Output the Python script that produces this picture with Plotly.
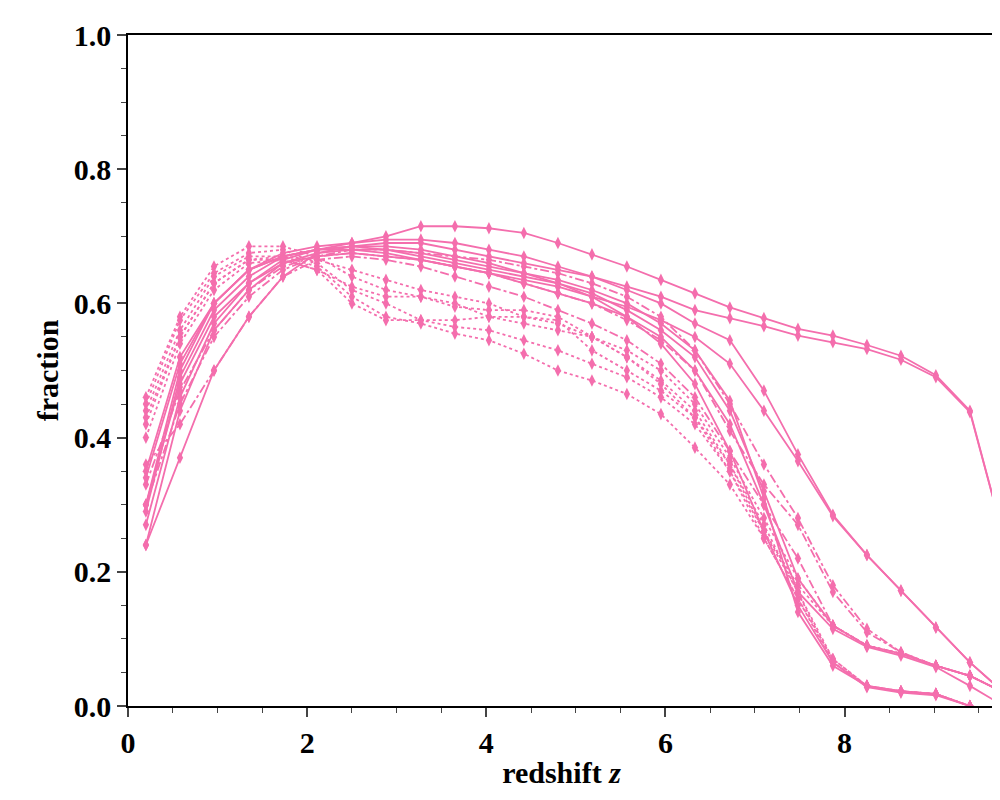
import plotly.graph_objects as go

z = [0.2, 0.58, 0.96, 1.35, 1.73, 2.11, 2.5, 2.88, 3.27, 3.65, 4.03, 4.42, 4.8,
     5.18, 5.57, 5.95, 6.33, 6.72, 7.1, 7.48, 7.87, 8.25, 8.63, 9.02, 9.4, 9.78]

# solid runs
solid = [
    [0.30, 0.50, 0.60, 0.65, 0.67, 0.68, 0.69, 0.70, 0.715, 0.715, 0.712, 0.705, 0.69, 0.673, 0.655, 0.635, 0.615, 0.594, 0.578, 0.562, 0.552, 0.538, 0.522, 0.493, 0.44, 0.25],
    [0.29, 0.49, 0.59, 0.64, 0.67, 0.68, 0.685, 0.69, 0.69, 0.68, 0.67, 0.66, 0.65, 0.64, 0.625, 0.61, 0.59, 0.578, 0.566, 0.552, 0.542, 0.532, 0.516, 0.49, 0.438, 0.25],
    [0.35, 0.52, 0.60, 0.65, 0.675, 0.685, 0.69, 0.695, 0.695, 0.69, 0.68, 0.67, 0.655, 0.64, 0.62, 0.60, 0.57, 0.545, 0.47, 0.375, 0.285, 0.225, 0.172, 0.117, 0.065, 0.02],
    [0.34, 0.51, 0.60, 0.65, 0.67, 0.68, 0.68, 0.675, 0.665, 0.655, 0.645, 0.635, 0.625, 0.61, 0.595, 0.575, 0.55, 0.51, 0.44, 0.365, 0.283, 0.225, 0.172, 0.117, 0.065, 0.02],
    [0.27, 0.46, 0.57, 0.63, 0.66, 0.675, 0.68, 0.68, 0.67, 0.66, 0.65, 0.64, 0.63, 0.615, 0.59, 0.56, 0.52, 0.44, 0.32, 0.19, 0.12, 0.09, 0.078, 0.06, 0.045, 0.02],
    [0.24, 0.44, 0.56, 0.62, 0.66, 0.67, 0.675, 0.67, 0.665, 0.655, 0.645, 0.63, 0.615, 0.60, 0.58, 0.55, 0.50, 0.42, 0.30, 0.17, 0.115, 0.088, 0.075, 0.058, 0.03, 0.0],
    [0.30, 0.48, 0.58, 0.63, 0.665, 0.68, 0.685, 0.68, 0.675, 0.665, 0.655, 0.645, 0.635, 0.62, 0.60, 0.57, 0.53, 0.455, 0.31, 0.14, 0.06, 0.03, 0.022, 0.018, 0.0, -0.01],
    [0.24, 0.37, 0.50, 0.58, 0.64, 0.675, 0.685, 0.685, 0.68, 0.67, 0.66, 0.645, 0.63, 0.61, 0.58, 0.54, 0.48, 0.38, 0.26, 0.15, 0.065, 0.028, 0.02, 0.016, 0.0, -0.01],
]
# dash-dot runs
dashdot = [
    [0.30, 0.45, 0.55, 0.61, 0.65, 0.67, 0.68, 0.68, 0.675, 0.67, 0.665, 0.655, 0.645, 0.63, 0.61, 0.58, 0.53, 0.45, 0.36, 0.28, 0.18, 0.115, 0.08, 0.06, 0.045, 0.02],
    [0.33, 0.47, 0.56, 0.62, 0.655, 0.67, 0.675, 0.67, 0.665, 0.655, 0.645, 0.63, 0.615, 0.60, 0.575, 0.545, 0.50, 0.41, 0.33, 0.27, 0.17, 0.11, 0.08, 0.06, 0.045, 0.02],
    [0.36, 0.42, 0.50, 0.58, 0.64, 0.665, 0.67, 0.665, 0.655, 0.64, 0.625, 0.61, 0.59, 0.57, 0.545, 0.51, 0.46, 0.38, 0.30, 0.22, 0.12, 0.09, 0.078, 0.06, 0.045, 0.02],
]
# dotted runs
dotted = [
    [0.46, 0.58, 0.655, 0.685, 0.685, 0.67, 0.64, 0.62, 0.61, 0.60, 0.58, 0.57, 0.56, 0.55, 0.53, 0.50, 0.45, 0.37, 0.28, 0.19, 0.12, 0.09, 0.078, 0.06, 0.045, 0.02],
    [0.45, 0.575, 0.645, 0.675, 0.68, 0.66, 0.62, 0.60, 0.575, 0.565, 0.56, 0.545, 0.53, 0.51, 0.49, 0.46, 0.42, 0.35, 0.26, 0.18, 0.12, 0.09, 0.078, 0.06, 0.045, 0.02],
    [0.44, 0.56, 0.64, 0.67, 0.67, 0.655, 0.61, 0.58, 0.57, 0.555, 0.545, 0.525, 0.50, 0.485, 0.465, 0.435, 0.385, 0.33, 0.25, 0.16, 0.065, 0.03, 0.022, 0.018, 0.0, -0.01],
    [0.42, 0.55, 0.63, 0.665, 0.665, 0.65, 0.60, 0.575, 0.575, 0.575, 0.58, 0.58, 0.575, 0.53, 0.50, 0.47, 0.43, 0.36, 0.27, 0.17, 0.065, 0.03, 0.022, 0.018, 0.0, -0.01],
    [0.40, 0.54, 0.62, 0.66, 0.665, 0.65, 0.625, 0.61, 0.61, 0.595, 0.59, 0.59, 0.58, 0.55, 0.52, 0.48, 0.43, 0.35, 0.25, 0.16, 0.07, 0.03, 0.022, 0.018, 0.0, -0.01],
    [0.43, 0.55, 0.63, 0.665, 0.67, 0.665, 0.65, 0.635, 0.62, 0.61, 0.60, 0.58, 0.57, 0.55, 0.52, 0.485, 0.44, 0.36, 0.26, 0.17, 0.07, 0.03, 0.022, 0.018, 0.0, -0.01],
]

pink = "#f46ead"
fig = go.Figure()
for group, dash in [(dotted, "dot"), (dashdot, "dashdot"), (solid, "solid")]:
    for ys in group:
        fig.add_trace(go.Scatter(
            x=z, y=ys, mode="lines+markers",
            line=dict(color=pink, width=1.8, dash=dash),
            marker=dict(symbol="diamond-tall", size=9, color=pink),
            showlegend=False, cliponaxis=True,
        ))

font = dict(family="Liberation Serif", size=30, color="black")
axis = dict(showgrid=False, zeroline=False, showline=True, linecolor="black",
            linewidth=1.5, mirror=True, ticks="outside", ticklen=9, tickwidth=1.5,
            tickfont=font, automargin=False)
fig.update_xaxes(range=[0, 9.68], dtick=2, tickformat="d",
                 minor=dict(ticks="outside", tick0=0, dtick=0.5, ticklen=5, tickwidth=1.2),
                 title=dict(text="<b>redshift <i>z</i></b>", font=font, standoff=4), **axis)
fig.update_yaxes(range=[0, 1.0], dtick=0.2, tickformat=".1f",
                 minor=dict(ticks="outside", tick0=0, dtick=0.05, ticklen=5, tickwidth=1.2),
                 title=dict(text="<b>fraction</b>", font=font, standoff=6), **axis)
fig.update_layout(
    width=1000, height=800, plot_bgcolor="white", paper_bgcolor="white",
    margin=dict(l=120, r=13, t=27, b=102),
    font=font,
)
fig.for_each_xaxis(lambda a: a.update(tickprefix="<b>", ticksuffix="</b>"))
fig.for_each_yaxis(lambda a: a.update(tickprefix="<b>", ticksuffix="</b>"))
fig.write_html("out.html")
